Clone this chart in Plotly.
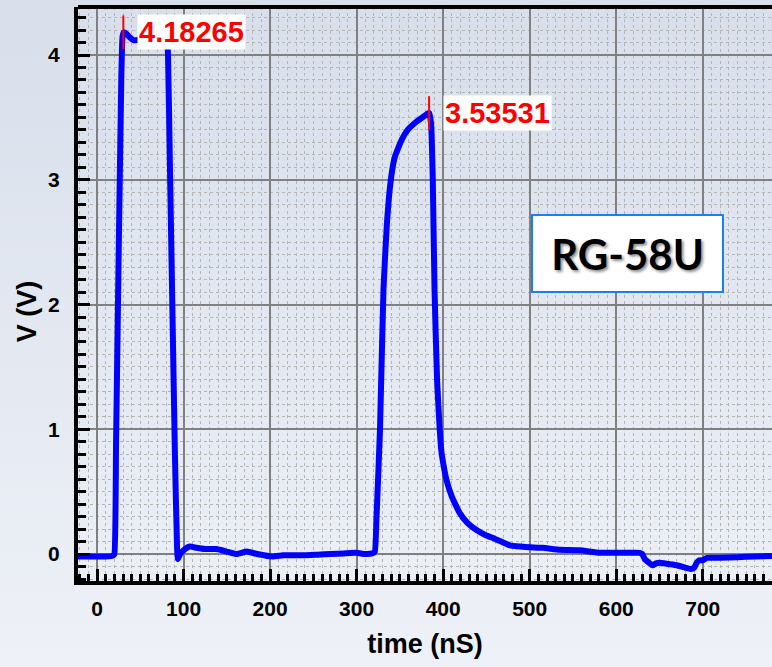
import plotly.graph_objects as go

# ---- data ----
time_ns = [-22, -10, 0, 10, 18, 20, 22, 25, 28, 29.5, 31, 34, 38, 42, 47, 55, 65, 75, 81,
           82, 84, 87, 90, 92.5, 93.5, 96, 100, 107, 115, 125, 138, 150, 161, 173, 185,
           203, 215, 226, 240, 255, 270, 285, 300, 310, 318, 321, 323, 327, 331, 335,
           339.5, 344, 352, 359, 369, 376, 382, 384, 386, 388, 390, 393, 396, 398, 401,
           404, 410, 419, 428, 439, 448, 457, 467, 477, 490, 500, 515, 535, 558, 581,
           600, 615, 627, 630, 633, 638, 642, 646, 650, 660, 670, 680, 686, 690, 693,
           696, 700, 705, 720, 740, 760, 780]
volts = [-0.02, -0.02, -0.02, -0.02, -0.015, 0.0, 0.9, 2.4, 3.8, 4.15, 4.183, 4.17, 4.14,
         4.12, 4.12, 4.13, 4.12, 4.12, 4.1,
         4.0, 3.2, 2.0, 0.8, 0.05, -0.04, 0.0, 0.03, 0.06, 0.05, 0.04, 0.04, 0.02, 0.0,
         0.02, 0.0,
         -0.02, -0.01, -0.01, -0.01, -0.005, 0.0, 0.005, 0.01, 0.0, 0.005, 0.02, 0.3, 1.0,
         2.12, 2.65,
         3.0, 3.18, 3.32, 3.40, 3.465, 3.50, 3.53, 3.535, 3.45, 3.0, 2.12, 1.39, 1.0, 0.82,
         0.69,
         0.59, 0.46, 0.33, 0.25, 0.19, 0.155, 0.13, 0.10, 0.07, 0.06, 0.055, 0.05, 0.035,
         0.03, 0.01,
         0.01, 0.01, 0.01, 0.0, -0.04, -0.07, -0.09, -0.075, -0.07, -0.08, -0.09, -0.11,
         -0.12, -0.11, -0.07,
         -0.05, -0.05, -0.03, -0.03, -0.025, -0.02, -0.015]

peak_t = [30.4, 383.7]
peak_v = [4.18265, 3.53531]
peak_labels = ["4.18265", "3.53531"]

x_ticks = [0, 100, 200, 300, 400, 500, 600, 700]
y_ticks = [0, 1, 2, 3, 4]
cable_label = "RG-58U"

BOLD = "Liberation Sans"

fig = go.Figure()
fig.add_trace(go.Scatter(
    x=time_ns, y=volts, mode="lines",
    line=dict(color="#0000ff", width=6, shape="spline", smoothing=0.4),
    hoverinfo="skip", showlegend=False))
fig.add_trace(go.Scatter(
    x=peak_t, y=peak_v, mode="markers",
    marker=dict(symbol="line-ns", size=24, color="red",
                line=dict(color="red", width=2)),
    hoverinfo="skip", showlegend=False))

for t, v, lab in zip(peak_t, peak_v, peak_labels):
    fig.add_annotation(x=t, y=v, xref="x", yref="y", text=lab, showarrow=False,
                       xanchor="left", yanchor="middle", xshift=14, yshift=0,
                       bgcolor="white", borderpad=1,
                       font=dict(family=BOLD, size=29, color="red", weight="bold"))

fig.add_annotation(xref="paper", yref="paper", x=0.7918, y=0.5706,
                   text=cable_label, showarrow=False,
                   xanchor="center", yanchor="middle",
                   width=189, height=75, borderpad=0,
                   bgcolor="white", bordercolor="#1a7ff0", borderwidth=2,
                   font=dict(family="Lato", size=42, color="black", weight="bold",
                             shadow="2px 2px 3px rgba(0,0,0,0.45)"))

# y axis title as annotation
fig.add_annotation(xref="paper", yref="paper", x=0, y=0.47, xshift=-51,
                   text="V (V)", textangle=-90, showarrow=False,
                   xanchor="center", yanchor="middle",
                   font=dict(family=BOLD, size=27, color="black", weight="bold"))

# top border line
fig.add_shape(type="line", xref="paper", yref="paper", x0=0, x1=1, y0=1, y1=1,
              line=dict(color="black", width=4), layer="above")

# background gradient
svg = ("data:image/svg+xml;utf8,<svg xmlns='http://www.w3.org/2000/svg' width='100' height='100' "
       "preserveAspectRatio='none'><defs><linearGradient id='g' x1='0' y1='0' x2='0' y2='1'>"
       "<stop offset='0' stop-color='%23d8dfeb'/><stop offset='1' stop-color='%23eef1f7'/>"
       "</linearGradient></defs><rect width='100' height='100' fill='url(%23g)'/></svg>")
fig.add_layout_image(source=svg, xref="paper", yref="paper",
                     x=-78 / 694, y=1 + 7 / 574, sizex=772 / 694, sizey=667 / 574,
                     sizing="stretch", xanchor="left", yanchor="top", layer="below")

fig.update_xaxes(
    range=[-22, 780], tickvals=x_ticks, ticks="inside", ticklen=12, tickwidth=3,
    tickcolor="black", showline=True, linecolor="black", linewidth=4, mirror=False,
    showgrid=True, gridcolor="#808080", gridwidth=2, zeroline=False,
    ticklabelstandoff=6,
    tickfont=dict(family=BOLD, size=21, color="black", weight="bold"),
    minor=dict(dtick=10, ticks="inside", ticklen=7, tickwidth=2.5, tickcolor="black",
               showgrid=True, gridcolor="#b5b5b5", griddash="dot", gridwidth=1),
    title=dict(text="time (nS)", standoff=16,
               font=dict(family=BOLD, size=27, color="black", weight="bold")))
fig.update_yaxes(
    range=[-0.216, 4.385], tickvals=y_ticks, ticks="inside", ticklen=12, tickwidth=3,
    tickcolor="black", showline=True, linecolor="black", linewidth=4, mirror=False,
    showgrid=True, gridcolor="#808080", gridwidth=2, zeroline=False,
    ticklabelstandoff=10,
    tickfont=dict(family=BOLD, size=21, color="black", weight="bold"),
    minor=dict(dtick=0.1, tick0=0, ticks="inside", ticklen=8, tickwidth=2.5,
               tickcolor="black", showgrid=True, gridcolor="#b5b5b5", griddash="dot",
               gridwidth=1))

fig.update_layout(
    width=772, height=667, autosize=False,
    margin=dict(l=78, r=0, t=7, b=86),
    paper_bgcolor="#e3e7f1", plot_bgcolor="white",
    showlegend=False)

fig.write_html("out.html")
